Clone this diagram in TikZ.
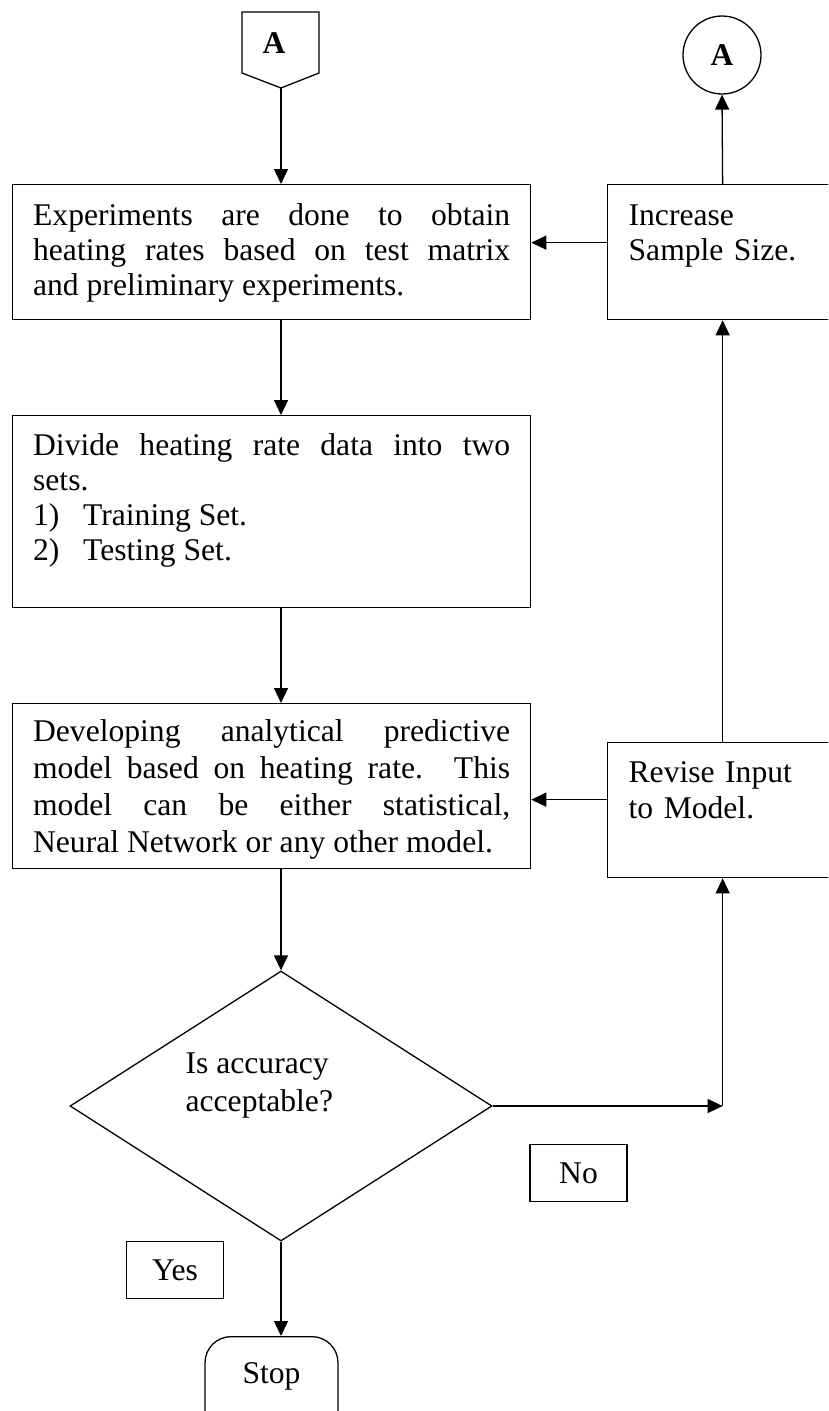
\documentclass[tikz,border=0pt]{standalone}
\usepackage{fontspec}
\setmainfont{Liberation Serif}
\usepackage{tikz}
\usetikzlibrary{arrows.meta}
\usetikzlibrary{shapes.geometric,positioning}
\tikzset{font={\fontsize{31.6pt}{35pt}\selectfont}}
\hbadness=10000
\tolerance=10000
\begin{document}
\begin{tikzpicture}[x=1pt,y=-1pt,line width=1.3pt,
arr/.style={-{Triangle[length=15pt,width=14pt]}},
textbox/.style={draw,anchor=north west,text width=477pt,align=justify,inner xsep=20.5pt,inner ysep=0pt},
sidebox/.style={draw,anchor=north west,text width=188pt,align=left,inner xsep=21pt,inner ysep=0pt,text height=41pt,text depth=94pt},
tag/.style={draw,minimum width=97pt,minimum height=57pt,inner sep=0pt}
]
\useasboundingbox (0,0) rectangle (828,1411);
\clip (0,0) rectangle (828,1411);

\draw (242,12) -- (319,12) -- (319,73) -- (281,88) -- (242,73) -- cycle;
\coordinate (inA) at (281,88);
\node (inAtxt) at (274,43) {\textbf{A}};
\node[draw,circle,minimum size=78pt,inner sep=0pt] (outA) at (722,55) {\textbf{A}};

\node[textbox,text height=41pt,text depth=94pt] (exp) at (12,184) {Experiments are done to obtain\linebreak heating rates based on test matrix\linebreak and preliminary experiments.};
\node[textbox,text height=40pt,text depth=152pt] (div) at (12,415) {Divide heating rate data into two\linebreak sets.\\ \makebox[50pt][l]{1)}Training Set.\\ \makebox[50pt][l]{2)}Testing Set.};
\node[textbox,text height=38pt,text depth=127pt,font={\fontsize{31.6pt}{37pt}\selectfont}] (mod) at (12,703) {Developing analytical predictive\linebreak model based on heating rate. This\linebreak model can be either statistical,\linebreak Neural Network or any other model.};

\node[sidebox] (inc) at (607,184) {Increase\\ Sample Size.};
\node[sidebox,text height=40pt,text depth=95pt,font={\fontsize{31.6pt}{36pt}\selectfont}] (rev) at (607,742) {Revise Input\\ to Model.};

\node[draw,diamond,minimum width=422pt,minimum height=270pt,inner sep=0pt] (acc) at (281,1106) {};
\node[anchor=north west,align=left,inner sep=0pt] (acctxt) at (185,1052) {Is accuracy\\[3pt] acceptable?};

\node[tag] (no) at (578.5,1173) {No};
\node[tag] (yes) at (175,1270) {Yes};
\node[draw,rounded corners=26pt,minimum width=133pt,text height=47pt,text depth=53pt,inner ysep=0pt,anchor=north] (stop) at (271.5,1336) {Stop};

\draw[arr] (inA) -- (inA |- exp.north);
\draw[arr] (inA |- exp.south) -- (inA |- div.north);
\draw[arr] (inA |- div.south) -- (inA |- mod.north);
\draw[arr] (inA |- mod.south) -- (acc.north);
\draw[arr] (acc.south) -- (acc.south |- stop.north);
\draw[arr] ([yshift=9.5pt]inc.west) -- ([yshift=9.5pt]inc.west -| exp.east);
\draw[arr] ([yshift=10.5pt]rev.west) -- ([yshift=10.5pt]rev.west -| mod.east);
\draw[arr] (inc.north) -- (outA.south);
\draw[arr] (rev.north) -- (inc.south);
\coordinate (turn) at (acc.east -| rev.south);
\draw[arr] (acc.east) -- (turn);
\draw[arr] (turn) -- (rev.south);
\end{tikzpicture}
\end{document}
